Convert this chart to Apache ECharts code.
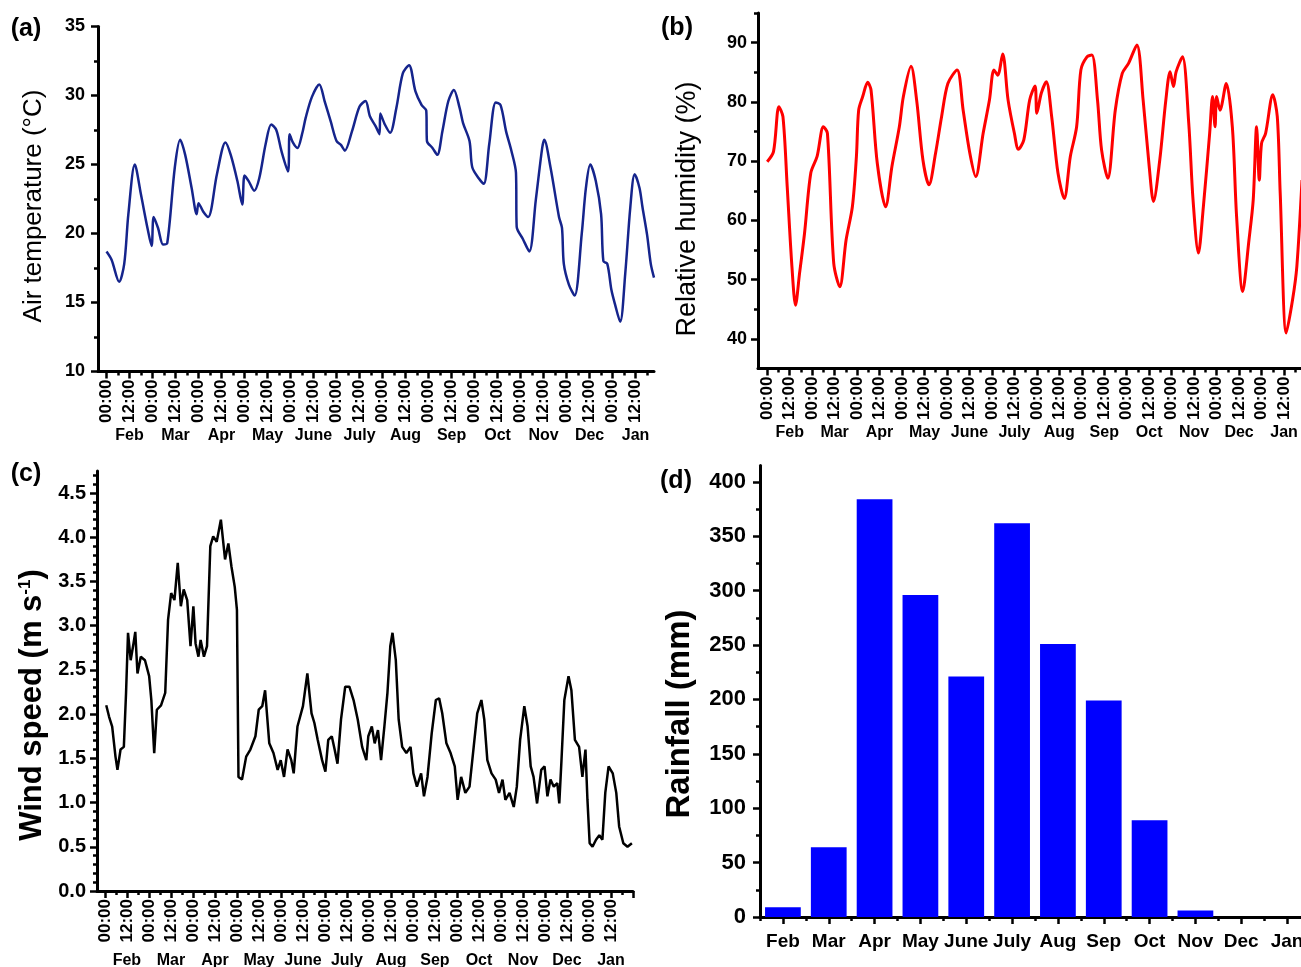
<!DOCTYPE html>
<html><head><meta charset="utf-8">
<script src="https://cdn.jsdelivr.net/npm/echarts@6/dist/echarts.min.js"></script>
<style>html,body{margin:0;padding:0;background:#fff}#c{width:1301px;height:967px}</style>
</head><body><div id="c"></div>
<script>
// ---- data ----
const timeLabels = ['00:00', '12:00'];
const months = ['Feb','Mar','Apr','May','June','July','Aug','Sep','Oct','Nov','Dec','Jan'];
// x = half-month label index (0 = first 00:00 label), y = value
const airTemperature = [[0,18.7],[0.22,18.1],[0.55,16.5],[0.77,17.8],[0.95,21.4],[1.23,25.0],[1.5,22.8],[1.78,20.4],[1.96,19.1],[2.05,21.2],[2.24,20.4],[2.46,19.2],[2.64,19.3],[2.97,24.8],[3.2,26.8],[3.42,25.7],[3.7,23.3],[3.92,21.4],[4.0,22.2],[4.2,21.6],[4.42,21.2],[4.8,24.3],[5.17,26.6],[5.4,25.7],[5.69,23.8],[5.9,22.1],[6.0,24.2],[6.18,23.8],[6.42,23.1],[6.64,24.0],[6.92,26.5],[7.16,27.9],[7.38,27.5],[7.6,26.0],[7.89,24.5],[7.96,27.2],[8.1,26.6],[8.3,26.2],[8.5,27.2],[8.66,28.4],[8.93,29.9],[9.25,30.8],[9.48,29.6],[9.75,28.1],[10.0,26.7],[10.2,26.4],[10.36,26.0],[10.67,27.4],[11.0,29.2],[11.26,29.6],[11.45,28.5],[11.69,27.8],[11.87,27.2],[11.9,28.7],[12.1,27.9],[12.33,27.3],[12.6,29.1],[12.88,31.6],[13.15,32.2],[13.43,30.3],[13.7,29.3],[13.9,28.9],[13.93,26.7],[14.17,26.2],[14.38,25.7],[14.6,27.4],[14.86,29.6],[15.1,30.4],[15.35,29.1],[15.5,28.0],[15.78,26.7],[15.9,24.8],[16.18,24.0],[16.4,23.6],[16.64,26.5],[16.92,29.5],[17.13,29.3],[17.37,27.4],[17.6,26.0],[17.8,24.4],[17.83,20.5],[18.1,19.6],[18.38,18.7],[18.66,22.4],[18.94,26.2],[19.03,26.8],[19.3,24.8],[19.67,21.2],[19.8,20.4],[19.88,17.8],[20.1,16.3],[20.35,15.5],[20.66,20.0],[20.84,23.3],[21.03,25.0],[21.27,23.8],[21.5,21.4],[21.6,18.0],[21.77,17.8],[21.95,15.9],[22.1,14.9],[22.33,13.6],[22.55,17.1],[22.77,21.9],[22.96,24.3],[23.17,23.3],[23.3,21.9],[23.5,19.9],[23.66,17.8],[23.8,16.8]];
const relativeHumidity = [[0,69.9],[0.28,71.6],[0.52,79.2],[0.7,77.5],[0.89,65.7],[1.1,52.2],[1.26,45.7],[1.44,51.1],[1.66,57.8],[1.94,68.0],[2.22,70.8],[2.5,75.8],[2.68,74.7],[2.96,52.8],[3.23,48.8],[3.51,56.7],[3.79,62.3],[3.97,70.8],[4.07,78.6],[4.25,80.9],[4.47,83.3],[4.62,82.0],[4.9,69.6],[5.27,62.3],[5.55,69.1],[5.88,75.8],[6.06,80.9],[6.4,86.0],[6.65,80.3],[6.93,70.2],[7.2,66.0],[7.49,71.3],[7.76,77.5],[8.04,83.1],[8.45,85.4],[8.72,78.6],[9.02,71.3],[9.28,67.4],[9.61,74.7],[9.89,80.3],[10.09,85.4],[10.26,84.5],[10.48,88.1],[10.72,80.3],[11.0,74.7],[11.18,72.0],[11.42,73.6],[11.68,80.3],[11.92,82.7],[12.0,78.1],[12.2,81.5],[12.42,83.4],[12.66,77.5],[12.94,68.0],[13.22,63.7],[13.49,70.8],[13.77,75.8],[13.96,85.4],[14.23,87.6],[14.45,87.9],[14.7,80.3],[14.88,71.9],[15.16,67.1],[15.49,78.6],[15.8,84.8],[16.08,86.5],[16.45,89.6],[16.73,80.3],[17.0,69.1],[17.19,63.2],[17.47,70.2],[17.74,80.3],[17.93,85.1],[18.08,82.6],[18.2,85.1],[18.48,87.6],[18.76,76.4],[18.95,63.5],[19.19,54.5],[19.41,62.3],[19.69,74.7],[19.82,80.9],[19.93,75.8],[20.0,80.9],[20.15,78.6],[20.43,83.1],[20.7,75.8],[20.89,60.6],[21.16,48.0],[21.44,56.7],[21.63,63.5],[21.78,75.8],[21.9,66.8],[22.0,73.0],[22.18,74.7],[22.5,81.2],[22.7,77.5],[22.83,64.6],[23.1,41.0],[23.38,46.6],[23.57,52.2],[23.8,66.8]];
const windSpeed = [[0.06,2.10],[0.19,1.97],[0.33,1.86],[0.48,1.52],[0.57,1.37],[0.71,1.60],[0.86,1.63],[0.96,2.24],[1.05,2.92],[1.17,2.61],[1.28,2.77],[1.38,2.93],[1.48,2.46],[1.63,2.65],[1.82,2.61],[2.01,2.43],[2.11,2.16],[2.24,1.56],[2.36,2.05],[2.55,2.10],[2.74,2.24],[2.87,3.07],[3.01,3.37],[3.16,3.29],[3.31,3.71],[3.45,3.22],[3.58,3.41],[3.74,3.29],[3.89,2.77],[4.02,3.22],[4.12,2.80],[4.25,2.65],[4.35,2.84],[4.5,2.65],[4.64,2.77],[4.79,3.90],[4.92,4.01],[5.08,3.95],[5.27,4.20],[5.46,3.75],[5.61,3.93],[5.75,3.67],[5.9,3.44],[6.0,3.18],[6.07,1.29],[6.23,1.26],[6.42,1.52],[6.61,1.60],[6.84,1.75],[6.99,2.05],[7.15,2.09],[7.28,2.27],[7.47,1.67],[7.66,1.56],[7.85,1.37],[7.99,1.48],[8.14,1.29],[8.3,1.60],[8.47,1.48],[8.58,1.33],[8.75,1.86],[9.0,2.09],[9.2,2.46],[9.39,2.01],[9.52,1.90],[9.67,1.71],[9.87,1.48],[10.02,1.35],[10.15,1.71],[10.31,1.75],[10.44,1.60],[10.57,1.44],[10.73,1.94],[10.92,2.31],[11.11,2.31],[11.3,2.16],[11.49,1.94],[11.69,1.63],[11.88,1.48],[11.97,1.75],[12.13,1.86],[12.26,1.67],[12.41,1.82],[12.55,1.48],[12.7,1.86],[12.84,2.24],[12.97,2.77],[13.07,2.92],[13.22,2.61],[13.35,1.94],[13.51,1.63],[13.7,1.56],[13.89,1.63],[14.02,1.33],[14.18,1.18],[14.37,1.33],[14.5,1.07],[14.66,1.29],[14.85,1.78],[15.04,2.16],[15.19,2.18],[15.33,2.01],[15.52,1.67],[15.71,1.56],[15.9,1.41],[16.03,1.03],[16.19,1.29],[16.38,1.11],[16.57,1.18],[16.76,1.63],[16.92,2.01],[17.11,2.16],[17.24,1.94],[17.38,1.48],[17.57,1.33],[17.76,1.26],[17.91,1.11],[18.07,1.26],[18.2,1.03],[18.39,1.11],[18.58,0.95],[18.72,1.18],[18.87,1.71],[19.06,2.09],[19.21,1.86],[19.35,1.41],[19.48,1.29],[19.64,0.99],[19.83,1.37],[19.98,1.41],[20.11,1.07],[20.25,1.26],[20.4,1.18],[20.56,1.22],[20.65,0.99],[20.75,1.48],[20.88,2.16],[21.07,2.43],[21.2,2.27],[21.36,1.71],[21.55,1.63],[21.7,1.29],[21.84,1.60],[21.93,1.03],[22.03,0.54],[22.16,0.50],[22.32,0.58],[22.47,0.63],[22.61,0.58],[22.74,1.11],[22.89,1.41],[23.08,1.33],[23.24,1.11],[23.37,0.73],[23.56,0.54],[23.75,0.50],[23.95,0.54]];
const rainfall = [9, 64, 384, 296, 221, 362, 251, 199, 89, 6, 0, 0];
const tempTicks = [10, 15, 20, 25, 30, 35];
const humTicks = [40, 50, 60, 70, 80, 90];
const windTicks = [0, 0.5, 1.0, 1.5, 2.0, 2.5, 3.0, 3.5, 4.0, 4.5];
const rainTicks = [0, 50, 100, 150, 200, 250, 300, 350, 400];

// ---- helpers ----
const FONT = '"Liberation Sans", Arial, Helvetica, sans-serif';
function seq(a, b, s) { const r = []; for (let k = 0; a + k * s <= b + 1e-9; k++) r.push(+(a + k * s).toFixed(4)); return r; }
const AX = { color: '#000', width: 3 };

function timeAxes(g, min, max, lblSize, monSize, monMargin) {
  const labelIdx = seq(0, 23, 1);
  const main = {
    type: 'value', gridIndex: g, min, max, position: 'bottom', offset: 0,
    axisLine: { show: true, onZero: false, lineStyle: AX },
    axisTick: { show: true, customValues: seq(0, Math.floor(max), 1), length: 7, lineStyle: { color: '#000', width: 2.5 } },
    axisLabel: { show: true, customValues: labelIdx, rotate: 90, margin: 8, color: '#000',
      fontFamily: FONT, fontWeight: 'bold', fontSize: lblSize,
      formatter: v => timeLabels[Math.round(v) % 2] },
    splitLine: { show: false }
  };
  const minor = {
    type: 'value', gridIndex: g, min, max, position: 'bottom', offset: 0,
    axisLine: { show: false, onZero: false },
    axisTick: { show: true, customValues: seq(0.5, max, 1), length: 4, lineStyle: { color: '#000', width: 2.5 } },
    axisLabel: { show: true, customValues: seq(1, 23, 2), margin: monMargin, color: '#000',
      fontFamily: FONT, fontWeight: 'bold', fontSize: monSize,
      formatter: v => months[Math.round((v - 1) / 2)] },
    splitLine: { show: false }
  };
  return [main, minor];
}
function valueAxes(g, min, max, ticks, minorTicks, size, margin, fmt) {
  const main = {
    type: 'value', gridIndex: g, min, max, position: 'left',
    axisLine: { show: true, onZero: false, lineStyle: AX },
    axisTick: { show: true, customValues: ticks, length: 7, lineStyle: { color: '#000', width: 2.5 } },
    axisLabel: { show: true, customValues: ticks, margin, color: '#000', fontFamily: FONT, fontWeight: 'bold', fontSize: size, formatter: fmt },
    splitLine: { show: false }
  };
  const minor = {
    type: 'value', gridIndex: g, min, max, position: 'left', offset: 0,
    axisLine: { show: false, onZero: false },
    axisTick: { show: true, customValues: minorTicks, length: 4, lineStyle: { color: '#000', width: 2.5 } },
    axisLabel: { show: false }, splitLine: { show: false }
  };
  return [main, minor];
}
function vtitle(text, x, y, size, weight, rich) {
  const st = { text, x: 0, y: 0, textAlign: 'center', textVerticalAlign: 'middle', fill: '#000',
    font: weight + ' ' + size + 'px ' + FONT };
  if (rich) st.rich = rich;
  return { type: 'text', x, y, rotation: Math.PI / 2, style: st, z: 10 };
}
function plabel(text, x, y) {
  return { type: 'text', x, y, style: { text, x: 0, y: 0, textAlign: 'center', textVerticalAlign: 'middle', fill: '#000', font: 'bold 25px ' + FONT }, z: 10 };
}

const ax = timeAxes(0, -0.37, 23.8, 17, 16, 56);
const bx = timeAxes(1, -0.41, 23.8, 17, 16, 56);
const cx = timeAxes(2, -0.36, 24, 17, 16, 62);
const dxMain = { type: 'category', gridIndex: 3, data: months, position: 'bottom',
  axisLine: { show: true, onZero: false, lineStyle: AX },
  axisTick: { show: true, alignWithLabel: true, length: 7, lineStyle: { color: '#000', width: 2.5 } },
  axisLabel: { interval: 0, margin: 15, color: '#000', fontFamily: FONT, fontWeight: 'bold', fontSize: 19 },
  splitLine: { show: false } };
const dxMinor = { type: 'category', gridIndex: 3, data: months, position: 'bottom', offset: 0,
  axisLine: { show: false }, axisTick: { show: true, length: 4, interval: 0, lineStyle: { color: '#000', width: 2.5 } },
  axisLabel: { show: false }, splitLine: { show: false } };

const ay = valueAxes(0, 10, 35, tempTicks, seq(12.5, 32.5, 5), 18, 13, v => String(v));
const by = valueAxes(1, 35, 95, humTicks, seq(45, 95, 10), 18, 11, v => String(v));
const cy = valueAxes(2, 0, 4.75, windTicks, seq(0.1, 4.7, 0.1).filter(v => Math.abs(v * 2 - Math.round(v * 2)) > 1e-6), 20, 11, v => v.toFixed(1));
const dy = valueAxes(3, 0, 415, rainTicks, seq(25, 400, 50), 22, 14, v => String(v));

const chart = echarts.init(document.getElementById('c'), null, { renderer: 'canvas' });
chart.setOption({
  animation: false,
  backgroundColor: '#fff',
  grid: [
    { left: 98, top: 26.5, width: 556, height: 345, containLabel: false, outerBoundsMode: 'none' },
    { left: 758, top: 13, width: 544, height: 355.6, containLabel: false, outerBoundsMode: 'none' },
    { left: 97, top: 471, width: 536, height: 420, containLabel: false, outerBoundsMode: 'none' },
    { left: 760, top: 465.5, width: 550, height: 451.5, containLabel: false, outerBoundsMode: 'none' }
  ],
  xAxis: [ax[0], ax[1], bx[0], bx[1], cx[0], cx[1], dxMain, dxMinor],
  yAxis: [ay[0], ay[1], by[0], by[1], cy[0], cy[1], dy[0], dy[1]],
  series: [
    { type: 'line', name: 'Air temperature', xAxisIndex: 0, yAxisIndex: 0, data: airTemperature,
      showSymbol: false, smooth: 0.3, lineStyle: { color: '#15248c', width: 2.5 }, clip: true },
    { type: 'line', name: 'Relative humidity', xAxisIndex: 2, yAxisIndex: 2, data: relativeHumidity,
      showSymbol: false, smooth: 0.3, lineStyle: { color: '#ff0000', width: 3 }, clip: true },
    { type: 'line', name: 'Wind speed', xAxisIndex: 4, yAxisIndex: 4, data: windSpeed,
      showSymbol: false, smooth: false, lineStyle: { color: '#000', width: 2.5 }, clip: true },
    { type: 'bar', name: 'Rainfall', xAxisIndex: 6, yAxisIndex: 6, data: rainfall,
      barCategoryGap: '22%', itemStyle: { color: '#0000ff' } }
  ],
  graphic: [
    plabel('(a)', 26, 29), plabel('(b)', 677, 28), plabel('(c)', 26, 474), plabel('(d)', 676, 481),
    vtitle('Air temperature (°C)', 34, 206, 26, 'normal'),
    vtitle('Relative humidity (%)', 688, 209, 27, 'normal'),
    vtitle('{a|Wind speed (m s}{b|-1}{a|)}', 32, 705, 31, 'bold', {
      a: { fontFamily: FONT, fontWeight: 'bold', fontSize: 31, fill: '#000' },
      b: { fontFamily: FONT, fontWeight: 'bold', fontSize: 17, fill: '#000', verticalAlign: 'top' } }),
    vtitle('Rainfall (mm)', 680, 714, 33, 'bold')
  ]
});
</script></body></html>
